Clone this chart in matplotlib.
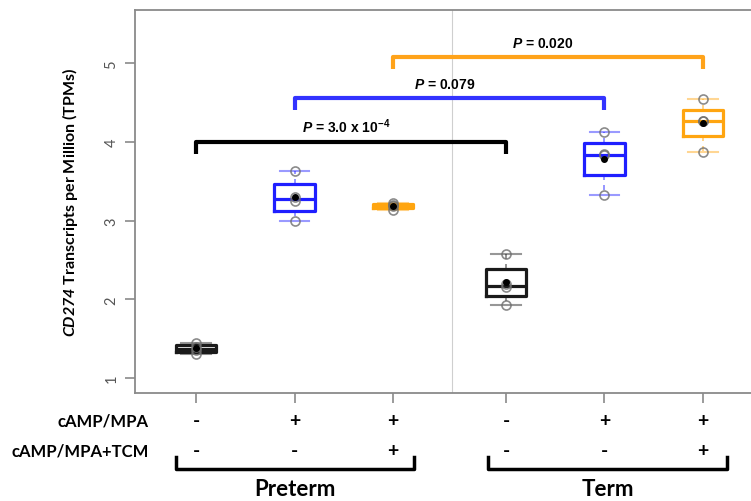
import matplotlib
matplotlib.use("Agg")
import matplotlib.pyplot as plt
import numpy as np

plt.rcParams['mathtext.fontset'] = 'custom'
plt.rcParams['mathtext.it'] = 'Liberation Sans:italic:bold'
plt.rcParams['mathtext.rm'] = 'Liberation Sans:bold'
plt.rcParams['mathtext.sf'] = 'Lato:italic:bold'

# groups (Preterm: 3, Term: 3)
positions = [1, 2, 3, 4.15, 5.15, 6.15]
colors = ['#1a1a1a', '#1f1fff', '#ffa510', '#1a1a1a', '#1f1fff', '#ffa510']
values = [
    [1.31, 1.36, 1.39, 1.45],
    [3.00, 3.25, 3.30, 3.63],
    [3.13, 3.19, 3.20, 3.23],
    [1.93, 2.16, 2.19, 2.58],
    [3.33, 3.83, 3.85, 4.13],
    [3.87, 4.27, 4.27, 4.54],
]
camp_row = ['-', '+', '+', '-', '+', '+']
tcm_row = ['-', '-', '+', '-', '-', '+']

# comparisons: (group a, group b, bar height, p label, colour)
comparisons = [
    (0, 3, 4.00, r'$P$ = 3.0 x 10$^{-4}$', '#000000'),
    (1, 4, 4.56, r'$P$ = 0.079', '#3333ff'),
    (2, 5, 5.08, r'$P$ = 0.020', '#ffa31a'),
]


def fivenum_stats(v):
    x = np.sort(np.asarray(v, dtype=float))
    n = len(x)
    n4 = np.floor((n + 3) / 2) / 2
    d = np.array([1, n4, (n + 1) / 2, n + 1 - n4, n]) - 1
    f = 0.5 * (x[np.floor(d).astype(int)] + x[np.ceil(d).astype(int)])
    return dict(whislo=f[0], q1=f[1], med=f[2], q3=f[3], whishi=f[4], fliers=[])


fig = plt.figure(figsize=(7.51, 5.02), dpi=100)
ax = fig.add_axes([0.18, 0.215, 0.82, 0.7637])

# separator between Preterm and Term
ax.axvline(3.6, color='#cfcfcf', lw=0.8, zorder=0)

for pos, col, v in zip(positions, colors, values):
    st = fivenum_stats(v)
    ax.bxp([st], positions=[pos], widths=0.41, showfliers=False,
           boxprops=dict(color=col, lw=2.3),
           medianprops=dict(color=col, lw=2.3),
           whiskerprops=dict(color=col, lw=1.2, ls=(0, (3, 3)), alpha=0.55),
           capprops=dict(color=col, lw=1.5, alpha=0.45),
           capwidths=0.3)
    ax.plot([pos] * len(v), v, 'o', mfc='none', mec='#6e6e6e', ms=6.5, mew=1.2, alpha=0.8, zorder=4)
    ax.plot(pos, np.mean(v), 'o', color='black', ms=4, zorder=5)

for a, b, h, lab, col in comparisons:
    xa, xb = positions[a], positions[b]
    ax.plot([xa, xa, xb, xb], [h - 0.15, h, h, h - 0.15], color=col, lw=3,
            solid_joinstyle='round', solid_capstyle='butt', zorder=3)
    ax.text((xa + xb) / 2 - 0.05, h + 0.09, lab, ha='center', va='bottom',
            fontsize=10, fontweight='bold', family='Liberation Sans')

ax.set_xlim(0.38, 6.64)
ax.set_ylim(0.81, 5.68)
ax.set_yticks([1, 2, 3, 4, 5])
ax.set_xticks(positions)
ax.set_xticklabels([])
for s in ['left', 'bottom', 'top']:
    ax.spines[s].set_color('#8a8a8a')
    ax.spines[s].set_linewidth(1.3)
ax.spines['right'].set_visible(False)
ax.tick_params(axis='both', colors='#8a8a8a', length=7, width=1.2)
ax.tick_params(axis='y', labelcolor='#555555', labelsize=10.5, pad=5)
for t in ax.get_yticklabels():
    t.set_family('Lato')
    t.set_rotation(90)
    t.set_va('center')
ax.set_ylabel(r'$\mathsf{CD274}$ Transcripts per Million (TPMs)', fontsize=11.5,
              fontweight='bold', family='Lato', labelpad=18)

tr = ax.get_xaxis_transform()
ax.text(0.022, -0.072, 'cAMP/MPA', transform=ax.transAxes, ha='right', va='center',
        fontsize=12, fontweight='bold', family='Lato')
ax.text(0.022, -0.151, 'cAMP/MPA+TCM', transform=ax.transAxes, ha='right', va='center',
        fontsize=12, fontweight='bold', family='Lato')
for pos, s1, s2 in zip(positions, camp_row, tcm_row):
    ax.text(pos, -0.072, s1, transform=tr, ha='center', va='center', fontsize=14,
            fontweight='bold', family='Lato', clip_on=False)
    ax.text(pos, -0.151, s2, transform=tr, ha='center', va='center', fontsize=14,
            fontweight='bold', family='Lato', clip_on=False)

for x0, x1, name in [(0.79, 3.21, 'Preterm'), (3.97, 6.40, 'Term')]:
    ax.plot([x0, x0, x1, x1], [-0.167, -0.198, -0.198, -0.167], transform=tr,
            color='black', lw=2.5, clip_on=False, solid_joinstyle='round')
    ax.text((x0 + x1) / 2, -0.25, name, transform=tr, ha='center', va='center',
            fontsize=16, fontweight='bold', family='Lato')

fig.savefig('out.png', dpi=100)
